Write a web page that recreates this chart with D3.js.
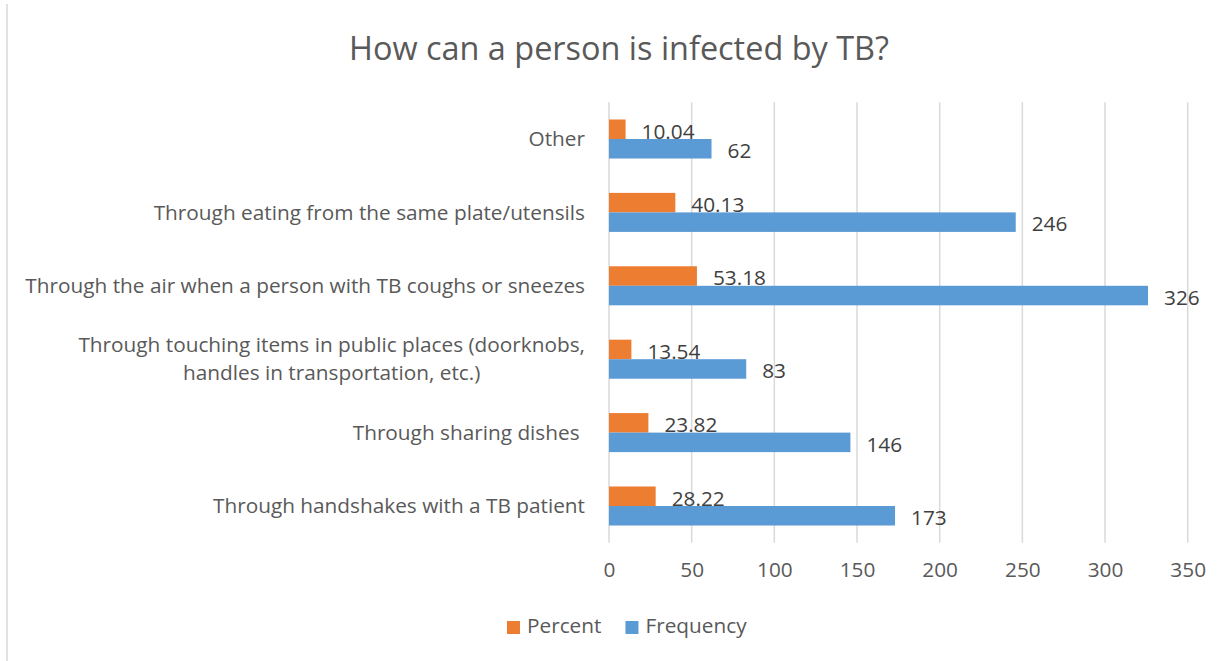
<!DOCTYPE html>
<html>
<head>
<meta charset="utf-8">
<script src="https://cdn.jsdelivr.net/npm/d3@7"></script>
<style>
  body { margin: 0; background: #fff; }
  text { font-family: "Open Sans", Lato, sans-serif; white-space: pre; }
</style>
</head>
<body>
<div id="chart"></div>
<script>
// chart data, top row first
const categories = [
  "Other",
  "Through eating from the same plate/utensils",
  "Through the air when a person with TB coughs or sneezes",
  "Through touching items in public places (doorknobs,\nhandles in transportation, etc.)",
  "Through sharing dishes ",
  "Through handshakes with a TB patient"
];
const percent = [10.04, 40.13, 53.18, 13.54, 23.82, 28.22];
const frequency = [62, 246, 326, 83, 146, 173];
const seriesNames = ["Percent", "Frequency"];
const xTicks = [0, 50, 100, 150, 200, 250, 300, 350];

const W = 1226, H = 661;
const colors = {Percent: "#ED7D31", Frequency: "#5B9BD5"};

const svg = d3.select("#chart").append("svg")
  .attr("width", W)
  .attr("height", H);

// the original used Calibri; scale the fallback font so the longest label keeps its width
const probe = svg.append("text").attr("font-size", 20).text(categories[2]);
const fs = 20 * 560 / probe.node().getComputedTextLength();
probe.remove();

// chart border (only the left edge shows in the picture)
svg.append("line")
  .attr("x1", 7).attr("x2", 7)
  .attr("y1", 4).attr("y2", H)
  .attr("stroke", "#d9d9d9")
  .attr("stroke-width", 1.5);

// title
svg.append("text")
  .attr("x", 619)
  .attr("y", 60)
  .attr("text-anchor", "middle")
  .attr("font-size", fs * 1.56)
  .attr("fill", "#595959")
  .text("How can a person is infected by TB?");

const plot = {left: 609, right: 1187.7, top: 102.3, bottom: 542.7};

const x = d3.scaleLinear()
  .domain([0, 350])
  .range([plot.left, plot.right]);

const y0 = d3.scaleBand()
  .domain(categories)
  .range([plot.top, plot.bottom]);

const y1 = d3.scaleBand()
  .domain(seriesNames)
  .range([0, y0.bandwidth()])
  .paddingInner(0)
  .paddingOuter(0.88);

// gridlines
svg.append("g")
  .selectAll("line")
  .data(xTicks)
  .enter()
  .append("line")
  .attr("x1", d => x(d)).attr("x2", d => x(d))
  .attr("y1", plot.top).attr("y2", plot.bottom)
  .attr("stroke", "#d9d9d9")
  .attr("stroke-width", 1.5);

// x axis labels
const xAxis = svg.append("g")
  .attr("transform", "translate(0," + plot.bottom + ")")
  .call(d3.axisBottom(x).tickValues(xTicks).tickSize(0).tickPadding(22));
xAxis.select(".domain").remove();
xAxis.selectAll("text")
  .attr("font-family", null)
  .attr("font-size", fs)
  .attr("fill", "#595959")
  .attr("dy", "0.6em");

// category labels
const labelRight = 585;
const catG = svg.append("g");
categories.forEach(c => {
  const lines = c.split("\n");
  const t = catG.append("text")
    .attr("font-size", fs)
    .attr("fill", "#595959");
  const cy = y0(c) + y0.bandwidth() / 2;
  const lh = 28;
  lines.forEach((ln, i) => {
    t.append("tspan")
      .attr("y", cy + (i - (lines.length - 1) / 2) * lh)
      .attr("dy", "0.35em")
      .text(ln);
  });
  if (lines.length === 1) {
    t.attr("text-anchor", "end");
    t.selectAll("tspan").attr("x", labelRight);
  } else {
    const maxW = d3.max(t.selectAll("tspan").nodes(), n => n.getComputedTextLength());
    t.attr("text-anchor", "middle");
    t.selectAll("tspan").attr("x", labelRight - maxW / 2);
  }
});

// bars
const rows = categories.map((c, i) => ({cat: c, Percent: percent[i], Frequency: frequency[i]}));
const groups = svg.append("g")
  .selectAll("g")
  .data(rows)
  .enter()
  .append("g")
  .attr("transform", d => "translate(0," + y0(d.cat) + ")");

const bars = groups.selectAll("rect")
  .data(d => seriesNames.map(s => ({key: s, value: d[s]})))
  .enter();

bars.append("rect")
  .attr("x", x(0))
  .attr("y", d => y1(d.key))
  .attr("width", d => x(d.value) - x(0))
  .attr("height", y1.bandwidth())
  .attr("fill", d => colors[d.key]);

// data labels
bars.append("text")
  .attr("x", d => x(d.value) + 16)
  .attr("y", d => y1(d.key) + y1.bandwidth() / 2 + 2)
  .attr("dy", "0.35em")
  .attr("font-size", fs)
  .attr("fill", "#404040")
  .text(d => d.value);

// legend
const legend = svg.append("g");
let lx = 507;
seriesNames.forEach(s => {
  legend.append("rect")
    .attr("x", lx).attr("y", 621)
    .attr("width", 13).attr("height", 13)
    .attr("fill", colors[s]);
  const t = legend.append("text")
    .attr("x", lx + 20)
    .attr("y", 626)
    .attr("dy", "0.35em")
    .attr("font-size", fs)
    .attr("fill", "#595959")
    .text(s);
  lx += 20 + t.node().getComputedTextLength() + 24;
});
</script>
</body>
</html>
